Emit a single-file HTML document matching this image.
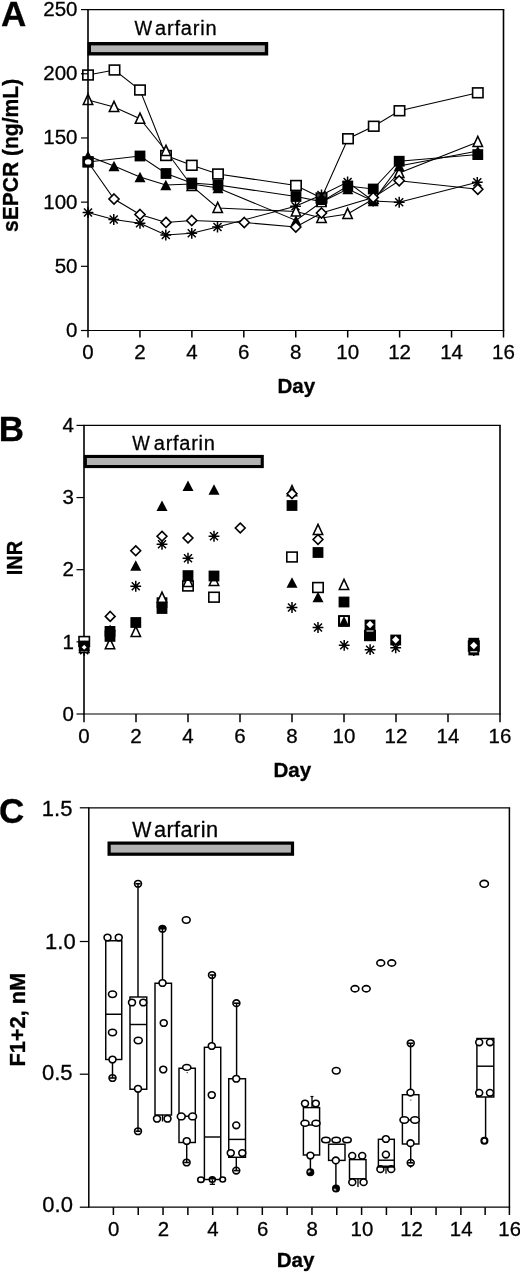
<!DOCTYPE html>
<html><head><meta charset="utf-8"><title>Figure</title>
<style>
html,body{margin:0;padding:0;background:#fff;}
body{width:520px;height:1275px;overflow:hidden;}
svg{display:block;filter:grayscale(1);}
svg text{font-family:"Liberation Sans",sans-serif;fill:#000;stroke:#000;stroke-width:0.3px;}
</style></head><body>
<svg width="520" height="1275" viewBox="0 0 520 1275">
<rect x="0" y="0" width="520" height="1275" fill="#fff"/>
<text x="77.5" y="16.1" font-size="20.5" text-anchor="end" font-weight="normal" >250</text>
<text x="77.5" y="80.27999999999999" font-size="20.5" text-anchor="end" font-weight="normal" >200</text>
<text x="77.5" y="144.45999999999998" font-size="20.5" text-anchor="end" font-weight="normal" >150</text>
<text x="77.5" y="208.64" font-size="20.5" text-anchor="end" font-weight="normal" >100</text>
<text x="77.5" y="272.82" font-size="20.5" text-anchor="end" font-weight="normal" >50</text>
<text x="77.5" y="337.0" font-size="20.5" text-anchor="end" font-weight="normal" >0</text>
<line x1="88.00" y1="330.5" x2="88.00" y2="337.5" stroke="#000" stroke-width="1.5"/>
<text x="88.00" y="358.5" font-size="20.5" text-anchor="middle" font-weight="normal" >0</text>
<line x1="139.94" y1="330.5" x2="139.94" y2="337.5" stroke="#000" stroke-width="1.5"/>
<text x="139.94" y="358.5" font-size="20.5" text-anchor="middle" font-weight="normal" >2</text>
<line x1="191.88" y1="330.5" x2="191.88" y2="337.5" stroke="#000" stroke-width="1.5"/>
<text x="191.88" y="358.5" font-size="20.5" text-anchor="middle" font-weight="normal" >4</text>
<line x1="243.81" y1="330.5" x2="243.81" y2="337.5" stroke="#000" stroke-width="1.5"/>
<text x="243.81" y="358.5" font-size="20.5" text-anchor="middle" font-weight="normal" >6</text>
<line x1="295.75" y1="330.5" x2="295.75" y2="337.5" stroke="#000" stroke-width="1.5"/>
<text x="295.75" y="358.5" font-size="20.5" text-anchor="middle" font-weight="normal" >8</text>
<line x1="347.69" y1="330.5" x2="347.69" y2="337.5" stroke="#000" stroke-width="1.5"/>
<text x="347.69" y="358.5" font-size="20.5" text-anchor="middle" font-weight="normal" >10</text>
<line x1="399.62" y1="330.5" x2="399.62" y2="337.5" stroke="#000" stroke-width="1.5"/>
<text x="399.62" y="358.5" font-size="20.5" text-anchor="middle" font-weight="normal" >12</text>
<line x1="451.56" y1="330.5" x2="451.56" y2="337.5" stroke="#000" stroke-width="1.5"/>
<text x="451.56" y="358.5" font-size="20.5" text-anchor="middle" font-weight="normal" >14</text>
<line x1="503.50" y1="330.5" x2="503.50" y2="337.5" stroke="#000" stroke-width="1.5"/>
<text x="503.50" y="358.5" font-size="20.5" text-anchor="middle" font-weight="normal" >16</text>
<text x="296.4" y="392.8" font-size="20.6" text-anchor="middle" font-weight="bold" >Day</text>
<text x="1.0" y="26.2" font-size="35" text-anchor="start" font-weight="bold" >A</text>
<text transform="translate(18.0,232.0) rotate(-90) scale(1,1.03)" font-size="21.05" font-weight="bold">sEPCR (ng/mL)</text>
<text transform="translate(134.4,35.4) scale(0.93,1)" font-size="20">W</text><text x="155.0" y="35.4" font-size="20" style="font-kerning:none;letter-spacing:0.83px">arfarin</text>
<rect x="89.3" y="43.7" width="177.2" height="10.1" fill="#b2b2b2" stroke="#000" stroke-width="3.4"/>
<polyline points="88.00,75.00 114.50,70.00 140.00,90.00 166.00,155.50 191.80,165.30 218.00,174.00 296.00,185.50 321.50,198.00 348.00,138.75 373.75,126.25 399.50,110.75 477.80,92.80" fill="none" stroke="#000" stroke-width="1.05"/>
<polyline points="88.00,100.00 114.00,107.00 140.00,118.75 166.00,151.00 191.80,186.00 217.70,208.00 296.00,211.50 321.50,218.00 347.60,214.00 373.50,199.00 399.20,173.00 477.80,142.00" fill="none" stroke="#000" stroke-width="1.05"/>
<polyline points="88.00,212.50 113.75,219.50 140.00,223.25 165.80,235.00 191.75,233.30 217.50,227.00 295.50,206.30 321.50,195.00 347.60,182.00 373.25,201.00 399.20,202.25 477.30,182.30" fill="none" stroke="#000" stroke-width="1.05"/>
<polyline points="88.00,156.00 114.00,166.00 140.00,177.00 165.80,185.00 191.80,184.00 218.00,188.00 296.00,220.50 321.50,202.00 347.80,189.00 373.25,201.00 399.20,166.00 477.80,151.00" fill="none" stroke="#000" stroke-width="1.05"/>
<polyline points="88.00,162.00 140.00,156.00 166.00,173.50 191.80,183.00 218.00,185.00 296.00,196.50 321.50,201.60 347.80,186.00 373.25,189.00 399.20,161.25 477.80,154.60" fill="none" stroke="#000" stroke-width="1.05"/>
<polyline points="88.00,162.00 114.00,199.00 140.00,214.50 166.00,222.40 191.75,220.50 244.25,222.50 295.80,227.00 321.50,213.00 373.25,197.60 399.20,180.80 477.80,189.20" fill="none" stroke="#000" stroke-width="1.05"/>
<rect x="82.80" y="70.10" width="10.4" height="9.8" fill="#fff" stroke="#000" stroke-width="1.6"/>
<rect x="109.30" y="65.10" width="10.4" height="9.8" fill="#fff" stroke="#000" stroke-width="1.6"/>
<rect x="134.80" y="85.10" width="10.4" height="9.8" fill="#fff" stroke="#000" stroke-width="1.6"/>
<rect x="160.80" y="150.60" width="10.4" height="9.8" fill="#fff" stroke="#000" stroke-width="1.6"/>
<rect x="186.60" y="160.40" width="10.4" height="9.8" fill="#fff" stroke="#000" stroke-width="1.6"/>
<rect x="212.80" y="169.10" width="10.4" height="9.8" fill="#fff" stroke="#000" stroke-width="1.6"/>
<rect x="290.80" y="180.60" width="10.4" height="9.8" fill="#fff" stroke="#000" stroke-width="1.6"/>
<rect x="316.30" y="193.10" width="10.4" height="9.8" fill="#fff" stroke="#000" stroke-width="1.6"/>
<rect x="342.80" y="133.85" width="10.4" height="9.8" fill="#fff" stroke="#000" stroke-width="1.6"/>
<rect x="368.55" y="121.35" width="10.4" height="9.8" fill="#fff" stroke="#000" stroke-width="1.6"/>
<rect x="394.30" y="105.85" width="10.4" height="9.8" fill="#fff" stroke="#000" stroke-width="1.6"/>
<rect x="472.60" y="87.90" width="10.4" height="9.8" fill="#fff" stroke="#000" stroke-width="1.6"/>
<path d="M88.00 207.10V217.90M82.60 212.50H93.40M84.00 208.50L92.00 216.50M84.00 216.50L92.00 208.50" stroke="#000" stroke-width="1.5" fill="none"/>
<path d="M113.75 214.10V224.90M108.35 219.50H119.15M109.75 215.50L117.75 223.50M109.75 223.50L117.75 215.50" stroke="#000" stroke-width="1.5" fill="none"/>
<path d="M140.00 217.85V228.65M134.60 223.25H145.40M136.00 219.25L144.00 227.25M136.00 227.25L144.00 219.25" stroke="#000" stroke-width="1.5" fill="none"/>
<path d="M165.80 229.60V240.40M160.40 235.00H171.20M161.80 231.00L169.80 239.00M161.80 239.00L169.80 231.00" stroke="#000" stroke-width="1.5" fill="none"/>
<path d="M191.75 227.90V238.70M186.35 233.30H197.15M187.75 229.30L195.75 237.30M187.75 237.30L195.75 229.30" stroke="#000" stroke-width="1.5" fill="none"/>
<path d="M217.50 221.60V232.40M212.10 227.00H222.90M213.50 223.00L221.50 231.00M213.50 231.00L221.50 223.00" stroke="#000" stroke-width="1.5" fill="none"/>
<path d="M295.50 200.90V211.70M290.10 206.30H300.90M291.50 202.30L299.50 210.30M291.50 210.30L299.50 202.30" stroke="#000" stroke-width="1.5" fill="none"/>
<path d="M321.50 189.60V200.40M316.10 195.00H326.90M317.50 191.00L325.50 199.00M317.50 199.00L325.50 191.00" stroke="#000" stroke-width="1.5" fill="none"/>
<path d="M347.60 176.60V187.40M342.20 182.00H353.00M343.60 178.00L351.60 186.00M343.60 186.00L351.60 178.00" stroke="#000" stroke-width="1.5" fill="none"/>
<path d="M373.25 195.60V206.40M367.85 201.00H378.65M369.25 197.00L377.25 205.00M369.25 205.00L377.25 197.00" stroke="#000" stroke-width="1.5" fill="none"/>
<path d="M399.20 196.85V207.65M393.80 202.25H404.60M395.20 198.25L403.20 206.25M395.20 206.25L403.20 198.25" stroke="#000" stroke-width="1.5" fill="none"/>
<path d="M477.30 176.90V187.70M471.90 182.30H482.70M473.30 178.30L481.30 186.30M473.30 186.30L481.30 178.30" stroke="#000" stroke-width="1.5" fill="none"/>
<path d="M88.00 94.30L92.70 104.40L83.30 104.40Z" fill="#fff" stroke="#000" stroke-width="1.55" stroke-linejoin="miter"/>
<path d="M114.00 101.30L118.70 111.40L109.30 111.40Z" fill="#fff" stroke="#000" stroke-width="1.55" stroke-linejoin="miter"/>
<path d="M140.00 113.05L144.70 123.15L135.30 123.15Z" fill="#fff" stroke="#000" stroke-width="1.55" stroke-linejoin="miter"/>
<path d="M166.00 145.30L170.70 155.40L161.30 155.40Z" fill="#fff" stroke="#000" stroke-width="1.55" stroke-linejoin="miter"/>
<path d="M191.80 180.30L196.50 190.40L187.10 190.40Z" fill="#fff" stroke="#000" stroke-width="1.55" stroke-linejoin="miter"/>
<path d="M217.70 202.30L222.40 212.40L213.00 212.40Z" fill="#fff" stroke="#000" stroke-width="1.55" stroke-linejoin="miter"/>
<path d="M296.00 205.80L300.70 215.90L291.30 215.90Z" fill="#fff" stroke="#000" stroke-width="1.55" stroke-linejoin="miter"/>
<path d="M321.50 212.30L326.20 222.40L316.80 222.40Z" fill="#fff" stroke="#000" stroke-width="1.55" stroke-linejoin="miter"/>
<path d="M347.60 208.30L352.30 218.40L342.90 218.40Z" fill="#fff" stroke="#000" stroke-width="1.55" stroke-linejoin="miter"/>
<path d="M373.50 193.30L378.20 203.40L368.80 203.40Z" fill="#fff" stroke="#000" stroke-width="1.55" stroke-linejoin="miter"/>
<path d="M399.20 167.30L403.90 177.40L394.50 177.40Z" fill="#fff" stroke="#000" stroke-width="1.55" stroke-linejoin="miter"/>
<path d="M477.80 136.30L482.50 146.40L473.10 146.40Z" fill="#fff" stroke="#000" stroke-width="1.55" stroke-linejoin="miter"/>
<path d="M88.00 150.80L93.50 161.20L82.50 161.20Z" fill="#000"/>
<path d="M114.00 160.80L119.50 171.20L108.50 171.20Z" fill="#000"/>
<path d="M140.00 171.80L145.50 182.20L134.50 182.20Z" fill="#000"/>
<path d="M165.80 179.80L171.30 190.20L160.30 190.20Z" fill="#000"/>
<path d="M191.80 178.80L197.30 189.20L186.30 189.20Z" fill="#000"/>
<path d="M218.00 182.80L223.50 193.20L212.50 193.20Z" fill="#000"/>
<path d="M296.00 215.30L301.50 225.70L290.50 225.70Z" fill="#000"/>
<path d="M321.50 196.80L327.00 207.20L316.00 207.20Z" fill="#000"/>
<path d="M347.80 183.80L353.30 194.20L342.30 194.20Z" fill="#000"/>
<path d="M373.25 195.80L378.75 206.20L367.75 206.20Z" fill="#000"/>
<path d="M399.20 160.80L404.70 171.20L393.70 171.20Z" fill="#000"/>
<path d="M477.80 145.80L483.30 156.20L472.30 156.20Z" fill="#000"/>
<rect x="82.60" y="156.60" width="10.8" height="10.8" fill="#000"/>
<rect x="134.60" y="150.60" width="10.8" height="10.8" fill="#000"/>
<rect x="160.60" y="168.10" width="10.8" height="10.8" fill="#000"/>
<rect x="186.40" y="177.60" width="10.8" height="10.8" fill="#000"/>
<rect x="212.60" y="179.60" width="10.8" height="10.8" fill="#000"/>
<rect x="290.60" y="191.10" width="10.8" height="10.8" fill="#000"/>
<rect x="316.10" y="196.20" width="10.8" height="10.8" fill="#000"/>
<rect x="342.40" y="180.60" width="10.8" height="10.8" fill="#000"/>
<rect x="367.85" y="183.60" width="10.8" height="10.8" fill="#000"/>
<rect x="393.80" y="155.85" width="10.8" height="10.8" fill="#000"/>
<rect x="472.40" y="149.20" width="10.8" height="10.8" fill="#000"/>
<line x1="318" y1="205.6" x2="325" y2="205.6" stroke="#fff" stroke-width="1"/>
<path d="M114.00 193.95L119.05 199.00L114.00 204.05L108.95 199.00Z" fill="#fff" stroke="#000" stroke-width="1.6"/>
<path d="M140.00 209.45L145.05 214.50L140.00 219.55L134.95 214.50Z" fill="#fff" stroke="#000" stroke-width="1.6"/>
<path d="M166.00 217.35L171.05 222.40L166.00 227.45L160.95 222.40Z" fill="#fff" stroke="#000" stroke-width="1.6"/>
<path d="M191.75 215.45L196.80 220.50L191.75 225.55L186.70 220.50Z" fill="#fff" stroke="#000" stroke-width="1.6"/>
<path d="M244.25 217.45L249.30 222.50L244.25 227.55L239.20 222.50Z" fill="#fff" stroke="#000" stroke-width="1.6"/>
<path d="M295.80 221.95L300.85 227.00L295.80 232.05L290.75 227.00Z" fill="#fff" stroke="#000" stroke-width="1.6"/>
<path d="M321.50 207.95L326.55 213.00L321.50 218.05L316.45 213.00Z" fill="#fff" stroke="#000" stroke-width="1.6"/>
<path d="M373.25 192.55L378.30 197.60L373.25 202.65L368.20 197.60Z" fill="#fff" stroke="#000" stroke-width="1.6"/>
<path d="M399.20 175.75L404.25 180.80L399.20 185.85L394.15 180.80Z" fill="#fff" stroke="#000" stroke-width="1.6"/>
<path d="M477.80 184.15L482.85 189.20L477.80 194.25L472.75 189.20Z" fill="#fff" stroke="#000" stroke-width="1.6"/>
<path d="M87.2 9.6H504.3M87.2 330.5H504.3" stroke="#000" stroke-width="1.2" fill="none"/><path d="M88.0 9.6V330.5M503.5 9.6V330.5" stroke="#000" stroke-width="1.6" fill="none"/>
<line x1="81.0" y1="9.60" x2="88.0" y2="9.60" stroke="#000" stroke-width="1.2"/>
<line x1="81.0" y1="73.78" x2="88.0" y2="73.78" stroke="#000" stroke-width="1.2"/>
<line x1="81.0" y1="137.96" x2="88.0" y2="137.96" stroke="#000" stroke-width="1.2"/>
<line x1="81.0" y1="202.14" x2="88.0" y2="202.14" stroke="#000" stroke-width="1.2"/>
<line x1="81.0" y1="266.32" x2="88.0" y2="266.32" stroke="#000" stroke-width="1.2"/>
<line x1="81.0" y1="330.50" x2="88.0" y2="330.50" stroke="#000" stroke-width="1.2"/>
<rect x="82.50" y="156.20" width="11.2" height="11.2" fill="#000"/>
<ellipse cx="88.1" cy="161.9" rx="3.2" ry="2.7" fill="#fff"/>
<path d="M83.2 425.4H500.8M83.2 714.0H500.8" stroke="#000" stroke-width="1.2" fill="none"/><path d="M84.0 425.4V714.0M500.0 425.4V714.0" stroke="#000" stroke-width="1.6" fill="none"/>
<line x1="76.5" y1="425.40" x2="84.0" y2="425.40" stroke="#000" stroke-width="1.2"/>
<text x="74.0" y="432.09999999999997" font-size="20.5" text-anchor="end" font-weight="normal" >4</text>
<line x1="76.5" y1="497.55" x2="84.0" y2="497.55" stroke="#000" stroke-width="1.2"/>
<text x="74.0" y="504.24999999999994" font-size="20.5" text-anchor="end" font-weight="normal" >3</text>
<line x1="76.5" y1="569.70" x2="84.0" y2="569.70" stroke="#000" stroke-width="1.2"/>
<text x="74.0" y="576.4000000000001" font-size="20.5" text-anchor="end" font-weight="normal" >2</text>
<line x1="76.5" y1="641.85" x2="84.0" y2="641.85" stroke="#000" stroke-width="1.2"/>
<text x="74.0" y="648.5500000000001" font-size="20.5" text-anchor="end" font-weight="normal" >1</text>
<line x1="76.5" y1="714.00" x2="84.0" y2="714.00" stroke="#000" stroke-width="1.2"/>
<text x="74.0" y="720.7" font-size="20.5" text-anchor="end" font-weight="normal" >0</text>
<line x1="84.00" y1="714.0" x2="84.00" y2="722.2" stroke="#000" stroke-width="1.5"/>
<text x="84.00" y="743.2" font-size="20.5" text-anchor="middle" font-weight="normal" >0</text>
<line x1="136.00" y1="714.0" x2="136.00" y2="722.2" stroke="#000" stroke-width="1.5"/>
<text x="136.00" y="743.2" font-size="20.5" text-anchor="middle" font-weight="normal" >2</text>
<line x1="188.00" y1="714.0" x2="188.00" y2="722.2" stroke="#000" stroke-width="1.5"/>
<text x="188.00" y="743.2" font-size="20.5" text-anchor="middle" font-weight="normal" >4</text>
<line x1="240.00" y1="714.0" x2="240.00" y2="722.2" stroke="#000" stroke-width="1.5"/>
<text x="240.00" y="743.2" font-size="20.5" text-anchor="middle" font-weight="normal" >6</text>
<line x1="292.00" y1="714.0" x2="292.00" y2="722.2" stroke="#000" stroke-width="1.5"/>
<text x="292.00" y="743.2" font-size="20.5" text-anchor="middle" font-weight="normal" >8</text>
<line x1="344.00" y1="714.0" x2="344.00" y2="722.2" stroke="#000" stroke-width="1.5"/>
<text x="344.00" y="743.2" font-size="20.5" text-anchor="middle" font-weight="normal" >10</text>
<line x1="396.00" y1="714.0" x2="396.00" y2="722.2" stroke="#000" stroke-width="1.5"/>
<text x="396.00" y="743.2" font-size="20.5" text-anchor="middle" font-weight="normal" >12</text>
<line x1="448.00" y1="714.0" x2="448.00" y2="722.2" stroke="#000" stroke-width="1.5"/>
<text x="448.00" y="743.2" font-size="20.5" text-anchor="middle" font-weight="normal" >14</text>
<line x1="500.00" y1="714.0" x2="500.00" y2="722.2" stroke="#000" stroke-width="1.5"/>
<text x="500.00" y="743.2" font-size="20.5" text-anchor="middle" font-weight="normal" >16</text>
<text x="292.3" y="777" font-size="20.6" text-anchor="middle" font-weight="bold" >Day</text>
<text x="-1.3" y="440.9" font-size="35" text-anchor="start" font-weight="bold" >B</text>
<text transform="translate(21.9,575.3) rotate(-90) scale(1,1.08)" font-size="20" font-weight="bold">INR</text>
<text transform="translate(132.3,450.4) scale(0.93,1)" font-size="20">W</text><text x="153.8" y="450.4" font-size="20" style="font-kerning:none;letter-spacing:0.72px">arfarin</text>
<rect x="85.35" y="456.45" width="176.9" height="10.100000000000046" fill="#b2b2b2" stroke="#000" stroke-width="3.1"/>
<rect x="79.00" y="636.60" width="10.4" height="9.8" fill="#fff" stroke="#000" stroke-width="1.6"/>
<rect x="182.80" y="581.10" width="10.4" height="9.8" fill="#fff" stroke="#000" stroke-width="1.6"/>
<rect x="208.80" y="592.30" width="10.4" height="9.8" fill="#fff" stroke="#000" stroke-width="1.6"/>
<rect x="286.80" y="552.10" width="10.4" height="9.8" fill="#fff" stroke="#000" stroke-width="1.6"/>
<rect x="312.80" y="582.60" width="10.4" height="9.8" fill="#fff" stroke="#000" stroke-width="1.6"/>
<rect x="338.80" y="616.10" width="10.4" height="9.8" fill="#fff" stroke="#000" stroke-width="1.6"/>
<rect x="364.80" y="630.60" width="10.4" height="9.8" fill="#fff" stroke="#000" stroke-width="1.6"/>
<rect x="468.60" y="641.10" width="10.4" height="9.8" fill="#fff" stroke="#000" stroke-width="1.6"/>
<path d="M84.20 644.90V655.70M78.80 650.30H89.60M80.20 646.30L88.20 654.30M80.20 654.30L88.20 646.30" stroke="#000" stroke-width="1.5" fill="none"/>
<path d="M110.20 625.20V636.00M104.80 630.60H115.60M106.20 626.60L114.20 634.60M106.20 634.60L114.20 626.60" stroke="#000" stroke-width="1.5" fill="none"/>
<path d="M135.75 580.85V591.65M130.35 586.25H141.15M131.75 582.25L139.75 590.25M131.75 590.25L139.75 582.25" stroke="#000" stroke-width="1.5" fill="none"/>
<path d="M162.00 538.85V549.65M156.60 544.25H167.40M158.00 540.25L166.00 548.25M158.00 548.25L166.00 540.25" stroke="#000" stroke-width="1.5" fill="none"/>
<path d="M188.00 552.85V563.65M182.60 558.25H193.40M184.00 554.25L192.00 562.25M184.00 562.25L192.00 554.25" stroke="#000" stroke-width="1.5" fill="none"/>
<path d="M214.00 530.85V541.65M208.60 536.25H219.40M210.00 532.25L218.00 540.25M210.00 540.25L218.00 532.25" stroke="#000" stroke-width="1.5" fill="none"/>
<path d="M292.00 602.10V612.90M286.60 607.50H297.40M288.00 603.50L296.00 611.50M288.00 611.50L296.00 603.50" stroke="#000" stroke-width="1.5" fill="none"/>
<path d="M318.00 622.10V632.90M312.60 627.50H323.40M314.00 623.50L322.00 631.50M314.00 631.50L322.00 623.50" stroke="#000" stroke-width="1.5" fill="none"/>
<path d="M344.20 639.90V650.70M338.80 645.30H349.60M340.20 641.30L348.20 649.30M340.20 649.30L348.20 641.30" stroke="#000" stroke-width="1.5" fill="none"/>
<path d="M370.10 644.30V655.10M364.70 649.70H375.50M366.10 645.70L374.10 653.70M366.10 653.70L374.10 645.70" stroke="#000" stroke-width="1.5" fill="none"/>
<path d="M395.70 642.40V653.20M390.30 647.80H401.10M391.70 643.80L399.70 651.80M391.70 651.80L399.70 643.80" stroke="#000" stroke-width="1.5" fill="none"/>
<path d="M473.80 645.10V655.90M468.40 650.50H479.20M469.80 646.50L477.80 654.50M469.80 654.50L477.80 646.50" stroke="#000" stroke-width="1.5" fill="none"/>
<path d="M84.20 642.30L88.90 652.40L79.50 652.40Z" fill="#fff" stroke="#000" stroke-width="1.55" stroke-linejoin="miter"/>
<path d="M110.00 638.60L114.70 648.70L105.30 648.70Z" fill="#fff" stroke="#000" stroke-width="1.55" stroke-linejoin="miter"/>
<path d="M135.80 626.30L140.50 636.40L131.10 636.40Z" fill="#fff" stroke="#000" stroke-width="1.55" stroke-linejoin="miter"/>
<path d="M188.00 576.30L192.70 586.40L183.30 586.40Z" fill="#fff" stroke="#000" stroke-width="1.55" stroke-linejoin="miter"/>
<path d="M214.00 575.30L218.70 585.40L209.30 585.40Z" fill="#fff" stroke="#000" stroke-width="1.55" stroke-linejoin="miter"/>
<path d="M292.00 485.50L296.70 495.60L287.30 495.60Z" fill="#fff" stroke="#000" stroke-width="1.55" stroke-linejoin="miter"/>
<path d="M318.00 524.30L322.70 534.40L313.30 534.40Z" fill="#fff" stroke="#000" stroke-width="1.55" stroke-linejoin="miter"/>
<path d="M344.00 579.30L348.70 589.40L339.30 589.40Z" fill="#fff" stroke="#000" stroke-width="1.55" stroke-linejoin="miter"/>
<path d="M135.75 560.30L141.25 570.70L130.25 570.70Z" fill="#000"/>
<path d="M162.00 500.55L167.50 510.95L156.50 510.95Z" fill="#000"/>
<path d="M188.00 480.55L193.50 490.95L182.50 490.95Z" fill="#000"/>
<path d="M214.00 484.30L219.50 494.70L208.50 494.70Z" fill="#000"/>
<path d="M292.00 577.30L297.50 587.70L286.50 587.70Z" fill="#000"/>
<path d="M318.00 591.80L323.50 602.20L312.50 602.20Z" fill="#000"/>
<rect x="78.80" y="640.60" width="10.8" height="10.8" fill="#000"/>
<rect x="104.60" y="631.00" width="10.8" height="10.8" fill="#000"/>
<rect x="104.60" y="626.00" width="10.8" height="10.8" fill="#000"/>
<rect x="130.40" y="617.10" width="10.8" height="10.8" fill="#000"/>
<rect x="156.60" y="603.10" width="10.8" height="10.8" fill="#000"/>
<rect x="156.60" y="597.30" width="10.8" height="10.8" fill="#000"/>
<rect x="182.60" y="570.20" width="10.8" height="10.8" fill="#000"/>
<rect x="208.60" y="570.60" width="10.8" height="10.8" fill="#000"/>
<rect x="286.60" y="500.10" width="10.8" height="10.8" fill="#000"/>
<rect x="312.60" y="547.10" width="10.8" height="10.8" fill="#000"/>
<rect x="338.60" y="596.60" width="10.8" height="10.8" fill="#000"/>
<rect x="364.60" y="619.60" width="10.8" height="10.8" fill="#000"/>
<rect x="364.60" y="630.10" width="10.8" height="10.8" fill="#000"/>
<rect x="390.30" y="634.60" width="10.8" height="10.8" fill="#000"/>
<rect x="468.40" y="637.80" width="10.8" height="10.8" fill="#000"/>
<rect x="468.40" y="644.60" width="10.8" height="10.8" fill="#000"/>
<path d="M162.00 592.10L166.70 602.20L157.30 602.20Z" fill="#fff" stroke="#000" stroke-width="1.55" stroke-linejoin="miter"/>
<path d="M344.00 616.10L349.10 626.30L338.90 626.30Z" fill="#000"/>
<rect x="339.3" y="616" width="9.4" height="9.8" fill="none" stroke="#000" stroke-width="1.6"/>
<line x1="366.5" y1="631" x2="373.5" y2="631" stroke="#fff" stroke-width="1.1"/>
<line x1="470.3" y1="651.8" x2="477.3" y2="651.8" stroke="#fff" stroke-width="1.1"/>
<path d="M84.20 643.80L87.70 647.30L84.20 650.80L80.70 647.30Z" fill="#fff" stroke="#000" stroke-width="1.6"/>
<path d="M110.20 611.50L115.10 616.40L110.20 621.30L105.30 616.40Z" fill="#fff" stroke="#000" stroke-width="1.6"/>
<path d="M135.75 545.85L140.65 550.75L135.75 555.65L130.85 550.75Z" fill="#fff" stroke="#000" stroke-width="1.6"/>
<path d="M162.00 531.35L166.90 536.25L162.00 541.15L157.10 536.25Z" fill="#fff" stroke="#000" stroke-width="1.6"/>
<path d="M188.00 533.10L192.90 538.00L188.00 542.90L183.10 538.00Z" fill="#fff" stroke="#000" stroke-width="1.6"/>
<path d="M240.25 523.10L245.15 528.00L240.25 532.90L235.35 528.00Z" fill="#fff" stroke="#000" stroke-width="1.6"/>
<path d="M292.00 488.85L296.90 493.75L292.00 498.65L287.10 493.75Z" fill="#fff" stroke="#000" stroke-width="1.6"/>
<path d="M318.00 534.60L322.90 539.50L318.00 544.40L313.10 539.50Z" fill="#fff" stroke="#000" stroke-width="1.6"/>
<path d="M370 620.8L373.7 624.5L370 628.2L366.3 624.5Z" fill="#fff"/>
<path d="M395.7 636.0999999999999L399.4 639.8L395.7 643.5L392.0 639.8Z" fill="#fff"/>
<path d="M473.8 641.8L477.5 645.5L473.8 649.2L470.1 645.5Z" fill="#fff"/>
<path d="M88.05 807.8H510.15M88.05 1207.2H510.15" stroke="#000" stroke-width="1.25" fill="none"/><path d="M88.8 807.8V1207.2M509.4 807.8V1207.2" stroke="#000" stroke-width="1.5" fill="none"/>
<line x1="79.8" y1="807.80" x2="88.8" y2="807.80" stroke="#000" stroke-width="1.25"/>
<text x="72.4" y="815.5" font-size="22" text-anchor="end" font-weight="normal" >1.5</text>
<line x1="79.8" y1="941.50" x2="88.8" y2="941.50" stroke="#000" stroke-width="1.25"/>
<text x="75.7" y="949.1" font-size="22" text-anchor="end" font-weight="normal" >1.0</text>
<line x1="79.8" y1="1074.20" x2="88.8" y2="1074.20" stroke="#000" stroke-width="1.25"/>
<text x="72.6" y="1079.8" font-size="22" text-anchor="end" font-weight="normal" >0.5</text>
<line x1="79.8" y1="1207.20" x2="88.8" y2="1207.20" stroke="#000" stroke-width="1.25"/>
<text x="72.9" y="1212.1" font-size="22" text-anchor="end" font-weight="normal" >0.0</text>
<line x1="113.40" y1="1207.2" x2="113.40" y2="1215.0" stroke="#000" stroke-width="1.5"/>
<text x="113.70" y="1236.0" font-size="20.4" text-anchor="middle" font-weight="normal" >0</text>
<line x1="138.22" y1="1207.2" x2="138.22" y2="1215.0" stroke="#000" stroke-width="1.5"/>
<line x1="163.04" y1="1207.2" x2="163.04" y2="1215.0" stroke="#000" stroke-width="1.5"/>
<text x="163.34" y="1236.0" font-size="20.4" text-anchor="middle" font-weight="normal" >2</text>
<line x1="187.86" y1="1207.2" x2="187.86" y2="1215.0" stroke="#000" stroke-width="1.5"/>
<line x1="212.68" y1="1207.2" x2="212.68" y2="1215.0" stroke="#000" stroke-width="1.5"/>
<text x="212.98" y="1236.0" font-size="20.4" text-anchor="middle" font-weight="normal" >4</text>
<line x1="237.50" y1="1207.2" x2="237.50" y2="1215.0" stroke="#000" stroke-width="1.5"/>
<line x1="262.32" y1="1207.2" x2="262.32" y2="1215.0" stroke="#000" stroke-width="1.5"/>
<text x="262.62" y="1236.0" font-size="20.4" text-anchor="middle" font-weight="normal" >6</text>
<line x1="287.14" y1="1207.2" x2="287.14" y2="1215.0" stroke="#000" stroke-width="1.5"/>
<line x1="311.96" y1="1207.2" x2="311.96" y2="1215.0" stroke="#000" stroke-width="1.5"/>
<text x="312.26" y="1236.0" font-size="20.4" text-anchor="middle" font-weight="normal" >8</text>
<line x1="336.78" y1="1207.2" x2="336.78" y2="1215.0" stroke="#000" stroke-width="1.5"/>
<line x1="361.60" y1="1207.2" x2="361.60" y2="1215.0" stroke="#000" stroke-width="1.5"/>
<text x="361.90" y="1236.0" font-size="20.4" text-anchor="middle" font-weight="normal" >10</text>
<line x1="386.42" y1="1207.2" x2="386.42" y2="1215.0" stroke="#000" stroke-width="1.5"/>
<line x1="411.24" y1="1207.2" x2="411.24" y2="1215.0" stroke="#000" stroke-width="1.5"/>
<text x="411.54" y="1236.0" font-size="20.4" text-anchor="middle" font-weight="normal" >12</text>
<line x1="436.06" y1="1207.2" x2="436.06" y2="1215.0" stroke="#000" stroke-width="1.5"/>
<line x1="460.88" y1="1207.2" x2="460.88" y2="1215.0" stroke="#000" stroke-width="1.5"/>
<text x="461.18" y="1236.0" font-size="20.4" text-anchor="middle" font-weight="normal" >14</text>
<line x1="485.15" y1="1207.2" x2="485.15" y2="1215.0" stroke="#000" stroke-width="1.5"/>
<line x1="509.40" y1="1207.2" x2="509.40" y2="1215.0" stroke="#000" stroke-width="1.5"/>
<text x="509.70" y="1236.0" font-size="20.4" text-anchor="middle" font-weight="normal" >16</text>
<text x="295.6" y="1267.4" font-size="20.6" text-anchor="middle" font-weight="bold" >Day</text>
<text x="-0.9" y="822.6" font-size="35" text-anchor="start" font-weight="bold" >C</text>
<text transform="translate(24.7,1066.6) rotate(-90) scale(1,1.04)" font-size="21.8" font-weight="bold">F1+2, nM</text>
<text transform="translate(132.3,836.75) scale(0.93,1)" font-size="21.8">W</text><text x="153.9" y="836.75" font-size="21.8" style="font-kerning:none;letter-spacing:0.4px">arfarin</text>
<rect x="109.1" y="843.1" width="183.40000000000003" height="11.099999999999955" fill="#b2b2b2" stroke="#000" stroke-width="3.2"/>
<rect x="105.75" y="940.75" width="16.00" height="118.75" fill="none" stroke="#000" stroke-width="1.45"/><line x1="105.75" y1="1014.25" x2="121.75" y2="1014.25" stroke="#000" stroke-width="1.45"/>
<rect x="130" y="997" width="16.75" height="92.25" fill="none" stroke="#000" stroke-width="1.45"/><line x1="130" y1="1024.5" x2="146.75" y2="1024.5" stroke="#000" stroke-width="1.45"/>
<rect x="155" y="983.25" width="16.50" height="131.75" fill="none" stroke="#000" stroke-width="1.45"/>
<rect x="179" y="1068.25" width="16.30" height="74.25" fill="none" stroke="#000" stroke-width="1.45"/><line x1="179" y1="1116.25" x2="195.3" y2="1116.25" stroke="#000" stroke-width="1.45"/>
<rect x="204.4" y="1047.3" width="16.35" height="132.20" fill="none" stroke="#000" stroke-width="1.45"/><line x1="204.4" y1="1137" x2="220.75" y2="1137" stroke="#000" stroke-width="1.45"/>
<rect x="228.75" y="1078.75" width="16.75" height="78.55" fill="none" stroke="#000" stroke-width="1.45"/><line x1="228.75" y1="1139.4" x2="245.5" y2="1139.4" stroke="#000" stroke-width="1.45"/>
<rect x="303.4" y="1107.6" width="16.20" height="47.40" fill="none" stroke="#000" stroke-width="1.45"/><line x1="303.4" y1="1125" x2="319.6" y2="1125" stroke="#000" stroke-width="1.45"/>
<rect x="328.6" y="1144.2" width="16.40" height="16.20" fill="none" stroke="#000" stroke-width="1.45"/>
<rect x="349.5" y="1159.6" width="16.50" height="19.20" fill="none" stroke="#000" stroke-width="1.45"/>
<rect x="378.4" y="1139.3" width="15.90" height="27.70" fill="none" stroke="#000" stroke-width="1.45"/><line x1="378.4" y1="1160.2" x2="394.3" y2="1160.2" stroke="#000" stroke-width="1.45"/>
<rect x="402.4" y="1094.7" width="16.50" height="49.30" fill="none" stroke="#000" stroke-width="1.45"/><line x1="402.4" y1="1120" x2="418.9" y2="1120" stroke="#000" stroke-width="1.45"/>
<rect x="476.9" y="1038.5" width="16.90" height="58.50" fill="none" stroke="#000" stroke-width="1.45"/><line x1="476.9" y1="1066.2" x2="493.8" y2="1066.2" stroke="#000" stroke-width="1.45"/>
<ellipse cx="107.5" cy="937.5" rx="3.45" ry="3.3" fill="#fff" stroke="#000" stroke-width="1.6"/>
<ellipse cx="118.75" cy="937.5" rx="3.45" ry="3.3" fill="#fff" stroke="#000" stroke-width="1.6"/>
<ellipse cx="112.5" cy="994.25" rx="4.0" ry="3.2" fill="#fff" stroke="#000" stroke-width="1.6"/>
<ellipse cx="112.5" cy="1032.5" rx="4.0" ry="3.2" fill="#fff" stroke="#000" stroke-width="1.6"/>
<ellipse cx="112.5" cy="1059.5" rx="3.45" ry="3.3" fill="#fff" stroke="#000" stroke-width="1.6"/>
<ellipse cx="112.5" cy="1078" rx="3.45" ry="3.3" fill="#fff" stroke="#000" stroke-width="1.6"/>
<ellipse cx="138" cy="883.75" rx="3.45" ry="3.3" fill="#fff" stroke="#000" stroke-width="1.6"/>
<ellipse cx="132" cy="1002.5" rx="3.45" ry="3.3" fill="#fff" stroke="#000" stroke-width="1.6"/>
<ellipse cx="143.25" cy="1002.5" rx="3.45" ry="3.3" fill="#fff" stroke="#000" stroke-width="1.6"/>
<ellipse cx="138.25" cy="1040.5" rx="4.0" ry="3.2" fill="#fff" stroke="#000" stroke-width="1.6"/>
<ellipse cx="138" cy="1088.75" rx="3.45" ry="3.3" fill="#fff" stroke="#000" stroke-width="1.6"/>
<ellipse cx="138" cy="1131.25" rx="3.45" ry="3.3" fill="#fff" stroke="#000" stroke-width="1.6"/>
<ellipse cx="162.5" cy="928.75" rx="3.45" ry="3.3" fill="#fff" stroke="#000" stroke-width="1.6"/>
<ellipse cx="162.5" cy="983" rx="3.45" ry="3.3" fill="#fff" stroke="#000" stroke-width="1.6"/>
<ellipse cx="163.75" cy="1023" rx="3.45" ry="3.3" fill="#fff" stroke="#000" stroke-width="1.6"/>
<ellipse cx="163.25" cy="1069.5" rx="3.45" ry="3.3" fill="#fff" stroke="#000" stroke-width="1.6"/>
<ellipse cx="157" cy="1118.75" rx="3.45" ry="3.3" fill="#fff" stroke="#000" stroke-width="1.6"/>
<ellipse cx="167.5" cy="1118.75" rx="3.45" ry="3.3" fill="#fff" stroke="#000" stroke-width="1.6"/>
<ellipse cx="186.25" cy="920" rx="3.9" ry="3.2" fill="#fff" stroke="#000" stroke-width="1.6"/>
<ellipse cx="186.75" cy="1067.4" rx="4.1" ry="2.9" fill="#fff" stroke="#000" stroke-width="1.6"/>
<ellipse cx="181.25" cy="1116.4" rx="3.9" ry="3.4" fill="#fff" stroke="#000" stroke-width="1.6"/>
<ellipse cx="192.6" cy="1116.4" rx="3.9" ry="3.4" fill="#fff" stroke="#000" stroke-width="1.6"/>
<ellipse cx="186.75" cy="1141" rx="3.45" ry="3.3" fill="#fff" stroke="#000" stroke-width="1.6"/>
<ellipse cx="186.6" cy="1162.5" rx="3.45" ry="3.3" fill="#fff" stroke="#000" stroke-width="1.6"/>
<ellipse cx="212" cy="975" rx="3.45" ry="3.3" fill="#fff" stroke="#000" stroke-width="1.6"/>
<ellipse cx="211.75" cy="1046" rx="3.45" ry="3.3" fill="#fff" stroke="#000" stroke-width="1.6"/>
<ellipse cx="211.75" cy="1095" rx="3.45" ry="3.3" fill="#fff" stroke="#000" stroke-width="1.6"/>
<ellipse cx="200.9" cy="1179.7" rx="3.2" ry="2.7" fill="#fff" stroke="#000" stroke-width="1.6"/>
<ellipse cx="212.3" cy="1179.5" rx="3.0" ry="2.8" fill="#fff" stroke="#000" stroke-width="1.6"/>
<ellipse cx="222.7" cy="1179.5" rx="2.8" ry="2.5" fill="#fff" stroke="#000" stroke-width="1.6"/>
<ellipse cx="236.4" cy="1003.2" rx="3.45" ry="3.3" fill="#fff" stroke="#000" stroke-width="1.6"/>
<ellipse cx="236.25" cy="1078.75" rx="3.45" ry="3.3" fill="#fff" stroke="#000" stroke-width="1.6"/>
<ellipse cx="236.25" cy="1125.3" rx="3.45" ry="3.3" fill="#fff" stroke="#000" stroke-width="1.6"/>
<ellipse cx="230.75" cy="1153" rx="3.45" ry="3.3" fill="#fff" stroke="#000" stroke-width="1.6"/>
<ellipse cx="242.3" cy="1153" rx="3.45" ry="3.3" fill="#fff" stroke="#000" stroke-width="1.6"/>
<ellipse cx="236.25" cy="1170.6" rx="3.45" ry="3.3" fill="#fff" stroke="#000" stroke-width="1.6"/>
<ellipse cx="305" cy="1103.5" rx="3.45" ry="3.3" fill="#fff" stroke="#000" stroke-width="1.6"/>
<ellipse cx="315.8" cy="1103.5" rx="3.45" ry="3.3" fill="#fff" stroke="#000" stroke-width="1.6"/>
<ellipse cx="305" cy="1123.3" rx="4.0" ry="3.0" fill="#fff" stroke="#000" stroke-width="1.6"/>
<ellipse cx="316" cy="1123.3" rx="4.0" ry="3.0" fill="#fff" stroke="#000" stroke-width="1.6"/>
<ellipse cx="310.4" cy="1155.5" rx="3.45" ry="3.3" fill="#fff" stroke="#000" stroke-width="1.6"/>
<ellipse cx="336.25" cy="1070.75" rx="3.9" ry="3.2" fill="#fff" stroke="#000" stroke-width="1.6"/>
<ellipse cx="325.9" cy="1140" rx="4.2" ry="2.7" fill="#fff" stroke="#000" stroke-width="1.6"/>
<ellipse cx="336.2" cy="1140" rx="4.2" ry="2.7" fill="#fff" stroke="#000" stroke-width="1.6"/>
<ellipse cx="347.0" cy="1140" rx="4.2" ry="2.7" fill="#fff" stroke="#000" stroke-width="1.6"/>
<ellipse cx="335.8" cy="1160.4" rx="3.45" ry="3.3" fill="#fff" stroke="#000" stroke-width="1.6"/>
<ellipse cx="355" cy="988.75" rx="3.9" ry="3.1" fill="#fff" stroke="#000" stroke-width="1.6"/>
<ellipse cx="366.25" cy="988.75" rx="3.9" ry="3.1" fill="#fff" stroke="#000" stroke-width="1.6"/>
<ellipse cx="352.2" cy="1155.8" rx="3.45" ry="3.3" fill="#fff" stroke="#000" stroke-width="1.6"/>
<ellipse cx="362.2" cy="1155.8" rx="3.45" ry="3.3" fill="#fff" stroke="#000" stroke-width="1.6"/>
<ellipse cx="352.3" cy="1182.2" rx="3.45" ry="3.3" fill="#fff" stroke="#000" stroke-width="1.6"/>
<ellipse cx="363.6" cy="1182.2" rx="3.45" ry="3.3" fill="#fff" stroke="#000" stroke-width="1.6"/>
<ellipse cx="380.75" cy="963" rx="3.9" ry="3.1" fill="#fff" stroke="#000" stroke-width="1.6"/>
<ellipse cx="391.75" cy="963" rx="3.9" ry="3.1" fill="#fff" stroke="#000" stroke-width="1.6"/>
<ellipse cx="385.9" cy="1139" rx="3.45" ry="3.3" fill="#fff" stroke="#000" stroke-width="1.6"/>
<ellipse cx="385.9" cy="1154.6" rx="3.45" ry="3.3" fill="#fff" stroke="#000" stroke-width="1.6"/>
<ellipse cx="380.4" cy="1169.2" rx="3.45" ry="3.3" fill="#fff" stroke="#000" stroke-width="1.6"/>
<ellipse cx="391.2" cy="1169.2" rx="3.45" ry="3.3" fill="#fff" stroke="#000" stroke-width="1.6"/>
<ellipse cx="410.75" cy="1043.25" rx="3.45" ry="3.3" fill="#fff" stroke="#000" stroke-width="1.6"/>
<ellipse cx="410.5" cy="1092.6" rx="3.45" ry="3.3" fill="#fff" stroke="#000" stroke-width="1.6"/>
<ellipse cx="404.3" cy="1120" rx="4.3" ry="3.2" fill="#fff" stroke="#000" stroke-width="1.6"/>
<ellipse cx="415" cy="1120" rx="4.3" ry="3.2" fill="#fff" stroke="#000" stroke-width="1.6"/>
<ellipse cx="410.5" cy="1143.2" rx="3.45" ry="3.3" fill="#fff" stroke="#000" stroke-width="1.6"/>
<ellipse cx="410.7" cy="1162.8" rx="3.45" ry="3.3" fill="#fff" stroke="#000" stroke-width="1.6"/>
<ellipse cx="484.2" cy="883.8" rx="4.2" ry="3.4" fill="#fff" stroke="#000" stroke-width="1.6"/>
<ellipse cx="479.2" cy="1042.3" rx="3.45" ry="3.3" fill="#fff" stroke="#000" stroke-width="1.6"/>
<ellipse cx="490" cy="1042.3" rx="3.45" ry="3.3" fill="#fff" stroke="#000" stroke-width="1.6"/>
<ellipse cx="479.2" cy="1092.8" rx="3.45" ry="3.3" fill="#fff" stroke="#000" stroke-width="1.6"/>
<ellipse cx="490" cy="1092.8" rx="3.45" ry="3.3" fill="#fff" stroke="#000" stroke-width="1.6"/>
<line x1="112.5" y1="1062.7" x2="112.5" y2="1078" stroke="#000" stroke-width="1.45"/><line x1="109.9" y1="1078" x2="115.1" y2="1078" stroke="#000" stroke-width="1.6"/>
<line x1="138" y1="997" x2="138" y2="883.75" stroke="#000" stroke-width="1.45"/><line x1="135.4" y1="883.75" x2="140.6" y2="883.75" stroke="#000" stroke-width="1.6"/>
<line x1="138" y1="1092" x2="138" y2="1131.25" stroke="#000" stroke-width="1.45"/><line x1="135.4" y1="1131.25" x2="140.6" y2="1131.25" stroke="#000" stroke-width="1.6"/>
<line x1="162.5" y1="979.8" x2="162.5" y2="928.75" stroke="#000" stroke-width="1.45"/><line x1="159.9" y1="928.75" x2="165.1" y2="928.75" stroke="#000" stroke-width="1.6"/>
<line x1="186.7" y1="1144.2" x2="186.7" y2="1162.5" stroke="#000" stroke-width="1.45"/><line x1="184.1" y1="1162.5" x2="189.29999999999998" y2="1162.5" stroke="#000" stroke-width="1.6"/>
<line x1="212.4" y1="1042.8" x2="212.4" y2="975" stroke="#000" stroke-width="1.45"/><line x1="209.8" y1="975" x2="215.0" y2="975" stroke="#000" stroke-width="1.6"/>
<line x1="236.6" y1="1075.5" x2="236.6" y2="1003.2" stroke="#000" stroke-width="1.45"/><line x1="234.0" y1="1003.2" x2="239.2" y2="1003.2" stroke="#000" stroke-width="1.6"/>
<line x1="236.3" y1="1157.3" x2="236.3" y2="1170.6" stroke="#000" stroke-width="1.45"/><line x1="233.70000000000002" y1="1170.6" x2="238.9" y2="1170.6" stroke="#000" stroke-width="1.6"/>
<line x1="310.4" y1="1158.7" x2="310.4" y2="1170" stroke="#000" stroke-width="1.45"/>
<line x1="335.9" y1="1163.6" x2="335.9" y2="1186" stroke="#000" stroke-width="1.45"/>
<line x1="410.6" y1="1089.4" x2="410.6" y2="1043.25" stroke="#000" stroke-width="1.45"/><line x1="408.0" y1="1043.25" x2="413.20000000000005" y2="1043.25" stroke="#000" stroke-width="1.6"/>
<line x1="410.7" y1="1146.4" x2="410.7" y2="1162.8" stroke="#000" stroke-width="1.45"/><line x1="408.09999999999997" y1="1162.8" x2="413.3" y2="1162.8" stroke="#000" stroke-width="1.6"/>
<line x1="485.6" y1="1097" x2="485.6" y2="1138" stroke="#000" stroke-width="1.45"/>
<circle cx="310.3" cy="1172.3" r="4.0" fill="#000"/><ellipse cx="309.2" cy="1171.4" rx="1.5" ry="1.1" fill="#bbb" transform="rotate(-30 309.2 1171.4)"/>
<circle cx="336" cy="1188.6" r="4.0" fill="#000"/><ellipse cx="335" cy="1189.6" rx="1.5" ry="1.0" fill="#aaa" transform="rotate(30 335 1189.6)"/>
<circle cx="484.4" cy="1140.8" r="3.0" fill="#fff" stroke="#000" stroke-width="2.1"/>
<line x1="377.7" y1="1166.6" x2="395" y2="1166.6" stroke="#000" stroke-width="2.2"/>
<path d="M409.2 1165.6L410.7 1168.2L412.2 1165.6Z" fill="#000"/>
<rect x="186.6" y="1072.2" width="1.3" height="0.9" fill="#222"/>
<rect x="410.2" y="1099.6" width="1.2" height="0.9" fill="#222"/>
<path d="M159.05 928.75A3.45 3.3 0 0 1 165.95 928.75Z" fill="#000"/>
<line x1="312" y1="1096.5" x2="312" y2="1107.6" stroke="#000" stroke-width="1.3"/><line x1="310.5" y1="1096.5" x2="313.5" y2="1096.5" stroke="#000" stroke-width="1.2"/>
<line x1="358" y1="1178.8" x2="358" y2="1187" stroke="#000" stroke-width="1.3"/>
<line x1="386" y1="1167" x2="386" y2="1173.8" stroke="#000" stroke-width="1.3"/>
<line x1="162.5" y1="1115" x2="162.5" y2="1121.5" stroke="#000" stroke-width="1.3"/>
<path d="M209.3 1179.5A3 2.8 0 0 1 215.3 1179.5Z" fill="#000"/>
<line x1="212.4" y1="1179.5" x2="212.4" y2="1184.2" stroke="#000" stroke-width="1.3"/><line x1="209.8" y1="1184.3" x2="215" y2="1184.3" stroke="#000" stroke-width="1.3"/>
</svg>
</body></html>
